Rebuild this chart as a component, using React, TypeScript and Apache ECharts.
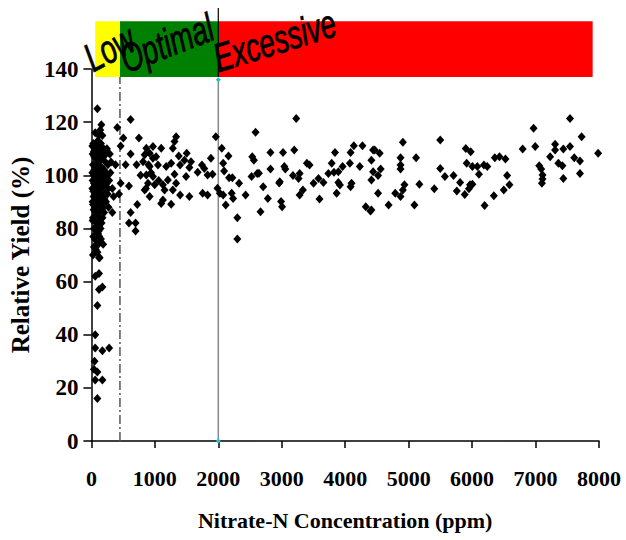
import React, { useEffect, useRef } from "react";
import * as echarts from "echarts";

// Zones of the coloured band above the plot
const zoneNames = ["Low", "Optimal", "Excessive"];
const zoneStarts = [60, 450, 2000];
const zoneEnds = [450, 2000, 7900];
const zoneColors = ["#ffff00", "#008000", "#ff0000"];
const zoneBandBottom = 137;
const zoneBandTop = 158;

// Threshold lines (ppm)
const lowLimit = 450;
const highLimit = 2000;
const highLimitTop = 136;

// Observations [nitrate-N ppm, relative yield %]
const lowZonePoints: number[][] = [
  [94, 125], [157, 119], [120, 115], [173, 115], [408, 118], [140, 117], [60, 116],
  [30, 112], [60, 110], [90, 111], [120, 109], [150, 112], [45, 107], [75, 106], [105, 108],
  [140, 106], [180, 107], [220, 105], [25, 104], [55, 103], [85, 104], [115, 102], [160, 103],
  [200, 102], [260, 104], [35, 100], [65, 101], [95, 99], [130, 100], [170, 98], [210, 99],
  [40, 97], [70, 96], [100, 97], [145, 95], [190, 96], [240, 97], [30, 94], [60, 93], [90, 92],
  [125, 94], [165, 92], [205, 93], [45, 90], [80, 89], [110, 91], [150, 89], [185, 88], [230, 90],
  [35, 87], [65, 86], [100, 85], [135, 87], [175, 84], [50, 83], [85, 82], [120, 81], [160, 82],
  [40, 80], [75, 79], [105, 78], [145, 80], [55, 76], [90, 75], [125, 77], [40, 73], [70, 72],
  [110, 74], [300, 101], [330, 95], [280, 98], [310, 105], [350, 92], [270, 88], [290, 108],
  [20, 108], [20, 98], [20, 90], [20, 83], [50, 110], [80, 108], [110, 105], [135, 103], [70, 99],
  [115, 96], [50, 95], [150, 99], [95, 94], [75, 91], [130, 90], [250, 100], [380, 104], [330, 86],
  [435, 93], [60, 73], [185, 74], [130, 69], [120, 69], [120, 63], [60, 62], [173, 58], [120, 57],
  [94, 51], [60, 40], [60, 35], [173, 34], [280, 35], [50, 30], [40, 27], [94, 26], [60, 23],
  [173, 23], [94, 16],
  [15, 111], [40, 109], [70, 112], [100, 113], [130, 111], [165, 109], [195, 110], [230, 108],
  [15, 101], [45, 102], [80, 102], [105, 100], [140, 101], [185, 100], [225, 101], [15, 95],
  [35, 92], [55, 98], [85, 97], [120, 98], [160, 96], [215, 95], [255, 93], [25, 89], [55, 88],
  [95, 88], [120, 86], [165, 87], [200, 86], [25, 84], [60, 80], [95, 80], [135, 83], [30, 77],
  [75, 76], [115, 79], [150, 76], [25, 70], [95, 71], [245, 110], [265, 95], [205, 91],
];

const optimalZonePoints: number[][] = [
  [618, 121], [503, 114], [749, 114], [461, 111], [618, 108], [539, 104], [712, 104], [775, 100],
  [461, 97], [592, 96], [723, 89], [618, 86], [592, 82], [696, 82], [696, 79],
  [1335, 114.5], [1310, 112.7], [1961, 114.5], [866, 110.2], [970, 110.8], [1100, 110.2],
  [840, 107.7], [918, 108.3], [1283, 110.2], [1377, 107.3], [1502, 108.3], [970, 106.4],
  [1049, 103.9], [814, 105.1], [918, 103.3], [1179, 103.3], [1257, 104.5], [1398, 103.9],
  [1466, 105.7], [1570, 105.1], [1544, 102.9], [1742, 103.9], [1779, 102.6], [1883, 106.4],
  [1675, 101.1], [1831, 100.1], [1909, 100.4], [1492, 99.5], [1310, 100.4], [1205, 98.2],
  [1335, 97], [866, 100.1], [970, 99.5], [892, 97], [997, 96.4], [1127, 96.4], [840, 94.5],
  [918, 92], [1153, 94.5], [1283, 94.5], [1398, 92.6], [1544, 92], [1753, 93.2], [1831, 92.6],
  [1987, 95.1], [1100, 89.4], [1127, 90.7], [1257, 89.1], [900, 104], [940, 101], [1020, 107],
  [1060, 98], [860, 95],
];

const excessiveZonePoints: number[][] = [
  [2587, 116.2], [2055, 110.2], [2160, 107.3], [2535, 107], [2561, 105.7], [2077, 104.5],
  [2092, 101.6], [2024, 93.2], [2077, 92.6], [2170, 99.1], [2222, 99.1], [2211, 93.2],
  [2233, 91.3], [2327, 97], [2430, 92.6], [2117, 88.8], [2300, 84], [2300, 76], [2524, 99.5],
  [2613, 100.7], [2665, 86.3],
  [3228, 121.4], [2822, 108.6], [3020, 108.6], [3197, 109.5], [2640, 100.8], [2707, 95.7],
  [2822, 102.4], [2969, 97.6], [2960, 97.1], [3041, 103.3], [3056, 102.4], [3177, 99.9],
  [3282, 100.7], [3265, 98.8], [3438, 103.9], [3396, 104.5], [3333, 94.5], [3282, 92.6],
  [2781, 91.3], [2989, 90.1], [3005, 88.2], [3595, 91.1], [3501, 97], [3579, 98.8],
  [3657, 97.3], [3735, 100.7], [3787, 104.5], [3839, 108.6], [3823, 101.1], [3892, 101.3],
  [3892, 97.3], [3917, 96.3], [3865, 93.2], [3959, 103.3], [4074, 104.5], [4100, 97],
  [4085, 95.7], [4136, 111.1], [4272, 111.1], [4085, 108.6], [4230, 103.3], [4413, 105.7],
  [4440, 109.5], [4413, 98.2], [4324, 88.2], [4397, 86.6],
  [4465, 109.5], [4543, 108.3], [4440, 101.3], [4559, 102.4], [4518, 99.9], [4518, 93.2],
  [4413, 86.9], [4909, 112.4], [4872, 106.6], [4872, 103.9], [4872, 102.4], [5117, 106.6],
  [4684, 88.8], [4789, 93.2], [4872, 92], [4934, 96.4], [4909, 94.5], [5091, 88.8], [5169, 96.6],
  [5404, 94.9], [5498, 113.3], [5498, 102.6], [5571, 99.5], [5707, 99.9], [5759, 94.1],
  [5811, 97.3], [5884, 92.8], [5900, 110.1], [5978, 108.9], [5915, 104.5], [6005, 103.3],
  [6083, 103.3], [6108, 100.4], [5967, 96.4], [6005, 96.6], [5950, 94.9], [6186, 103.9],
  [6239, 103.3], [6197, 88.6],
  [7543, 121.4], [6969, 117.7], [7726, 114.5], [7986, 108.3], [6797, 109.9], [6995, 110.8],
  [7308, 111.7], [7308, 109.5], [7438, 109.9], [7543, 110.8], [7230, 107], [7610, 106.6],
  [7700, 105.4], [7360, 104.5], [7423, 103.6], [7058, 103.6], [7089, 102.4], [7700, 100.7],
  [7438, 98.8], [7110, 98.6], [7100, 97], [7110, 100.1], [6358, 106.6], [6432, 107],
  [6526, 106.1], [6552, 99.9], [6588, 96.4], [6499, 94.5], [6343, 92.3],
];

const xAxisTitle = "Nitrate-N Concentration (ppm)";
const yAxisTitle = "Relative Yield (%)";

// text styling of the band labels (rotation in degrees, pixel nudges)
const zoneTextStyle = [
  { angle: 28, dx: 1, dy: 1 },
  { angle: 21, dx: 9, dy: 2 },
  { angle: 17, dx: 2, dy: 1 },
];

export default function App() {
  const ref = useRef<HTMLDivElement>(null);

  useEffect(() => {
    document.body.style.margin = "0";
    if (!ref.current) return;
    const chart = echarts.init(ref.current, undefined, { renderer: "svg" });
    const serif = "'Liberation Serif', 'Times New Roman', serif";
    const scatterCommon = {
      type: "scatter",
      symbol: "diamond",
      symbolSize: [8, 9],
      itemStyle: { color: "#000", opacity: 1 },
      z: 5,
    };
    chart.setOption({
      animation: false,
      backgroundColor: "#fff",
      grid: { left: 88, right: 27, top: 69, bottom: 99, containLabel: false },
      xAxis: {
        type: "value",
        min: 0,
        max: 8000,
        interval: 1000,
        name: xAxisTitle,
        nameLocation: "middle",
        nameGap: 68,
        nameTextStyle: { fontFamily: serif, fontWeight: "bold", fontSize: 22, color: "#000" },
        axisLine: { show: true, onZero: false, lineStyle: { color: "#000", width: 1.5 } },
        axisTick: { show: true, inside: false, length: 7, lineStyle: { color: "#000", width: 1.5 } },
        axisLabel: {
          margin: 26,
          fontFamily: serif,
          fontWeight: "bold",
          fontSize: 22,
          color: "#000",
          formatter: (v: number) => String(v),
        },
        splitLine: { show: false },
      },
      yAxis: {
        type: "value",
        min: 0,
        max: 140,
        interval: 20,
        name: yAxisTitle,
        nameLocation: "middle",
        nameRotate: 90,
        nameGap: 55,
        nameTextStyle: { fontFamily: serif, fontWeight: "bold", fontSize: 25, color: "#000" },
        axisLine: { show: true, onZero: false, lineStyle: { color: "#000", width: 1.5 } },
        axisTick: { show: true, inside: false, length: 8, lineStyle: { color: "#000", width: 1.5 } },
        axisLabel: {
          margin: 13,
          fontFamily: serif,
          fontWeight: "bold",
          fontSize: 23,
          color: "#000",
          formatter: (v: number) => String(v),
        },
        splitLine: { show: false },
      },
      series: [
        {
          type: "custom",
          clip: false,
          z: 1,
          silent: true,
          encode: { x: [0, 1], y: [2, 3] },
          data: zoneStarts.map((s, i) => [s, zoneEnds[i], zoneBandBottom, zoneBandTop, i]),
          renderItem: (params: any, api: any) => {
            const i = params.dataIndex;
            const a = api.coord([api.value(0), api.value(3)]);
            const b = api.coord([api.value(1), api.value(2)]);
            const ts = zoneTextStyle[i];
            return {
              type: "group",
              children: [
                {
                  type: "rect",
                  shape: { x: a[0], y: a[1], width: b[0] - a[0], height: b[1] - a[1] },
                  style: { fill: zoneColors[i] },
                  z2: 1,
                },
                {
                  type: "text",
                  x: a[0] + ts.dx,
                  y: b[1] + ts.dy,
                  rotation: (ts.angle * Math.PI) / 180,
                  scaleX: 0.7,
                  z2: 10,
                  style: {
                    text: zoneNames[i],
                    fontFamily: "'Liberation Sans', Arial, sans-serif",
                    fontStyle: "italic",
                    fontSize: 40,
                    fill: "#000",
                    stroke: "#000",
                    lineWidth: 0.8,
                    align: "left",
                    verticalAlign: "bottom",
                  },
                },
              ],
            };
          },
        },
        {
          type: "line",
          clip: false,
          z: 2,
          silent: true,
          symbol: "none",
          lineStyle: { color: "#000", width: 1.2 },
          data: [[highLimit, zoneBandBottom], [highLimit, zoneBandTop + 5]],
        },
        {
          type: "line",
          z: 3,
          silent: true,
          symbol: "none",
          lineStyle: { color: "#555", width: 1.5, type: [9, 3, 2, 3] },
          data: [[lowLimit, 0], [lowLimit, zoneBandBottom]],
        },
        {
          type: "line",
          clip: false,
          z: 3,
          silent: true,
          symbol: "diamond",
          symbolSize: 5,
          showSymbol: true,
          itemStyle: { color: "#20c0d0" },
          lineStyle: { color: "#888", width: 1.5 },
          data: [[highLimit, 0], [highLimit, highLimitTop]],
        },
        { ...scatterCommon, data: lowZonePoints },
        { ...scatterCommon, data: optimalZonePoints },
        { ...scatterCommon, data: excessiveZonePoints },
      ],
    });
    return () => chart.dispose();
  }, []);

  return <div ref={ref} style={{ width: 626, height: 540 }} />;
}
